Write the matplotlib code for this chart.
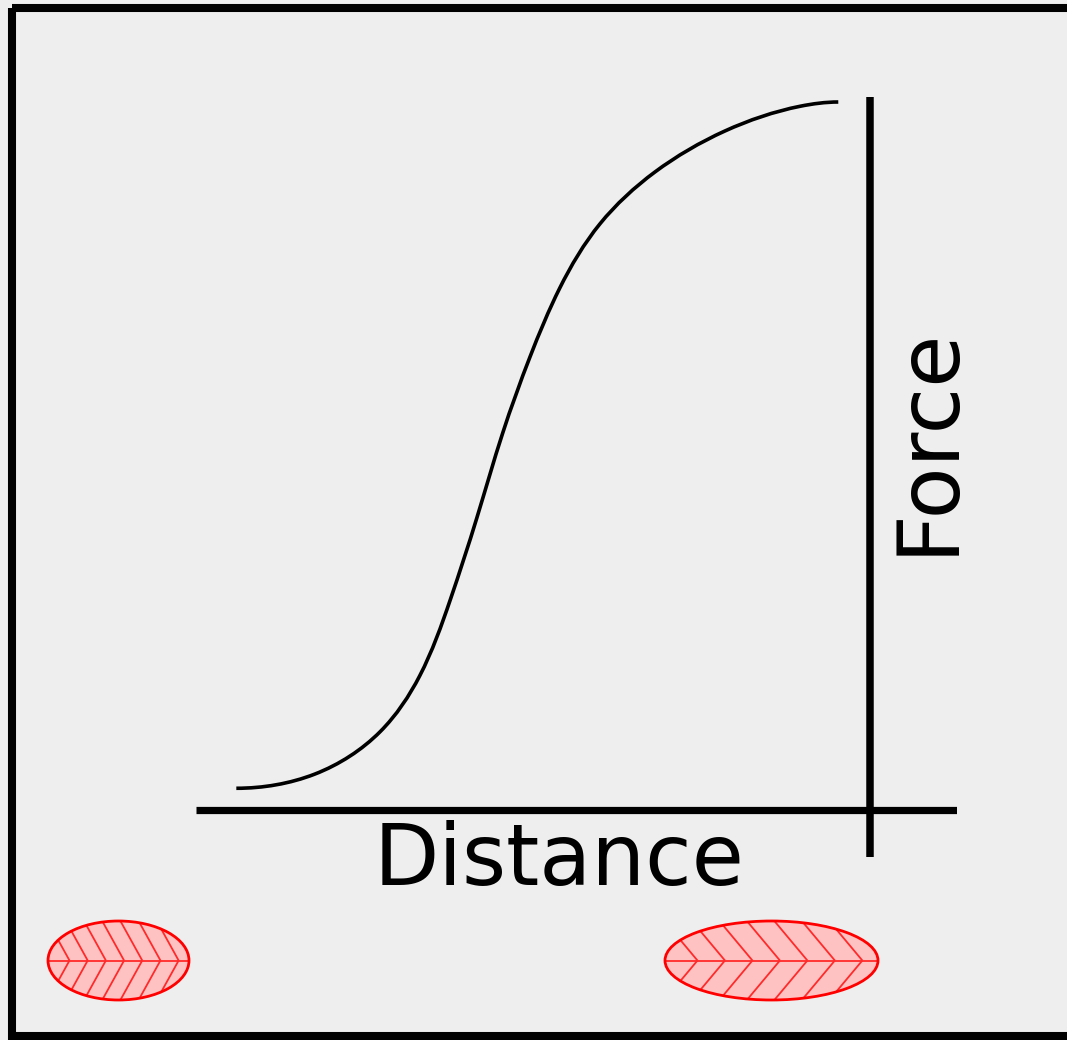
import matplotlib
matplotlib.use("Agg")
import math
import numpy as np
import matplotlib.pyplot as plt
from matplotlib.patches import Ellipse, Rectangle, PathPatch
from matplotlib.path import Path
from matplotlib.collections import LineCollection

# Force-distance curve (distance in arbitrary units, force in arbitrary units)
distance = [0.53, 1.56, 2.42, 2.94, 3.34, 3.69, 4.03, 4.39, 4.78, 5.31, 6.03,
            6.95, 7.94, 8.44]
force = [0.30, 0.50, 1.10, 1.89, 2.96, 4.12, 5.32, 6.40, 7.37, 8.28, 9.01,
         9.59, 9.94, 10.00]
x_label = "Distance"
y_label = "Force"

W, H = 1067, 1040
fig = plt.figure(figsize=(W / 100, H / 100), dpi=100, facecolor="#eeeeee")

# Background canvas in pixel units for frame, labels and leaf icons
bg = fig.add_axes([0, 0, 1, 1])
bg.set_xlim(0, W)
bg.set_ylim(H, 0)
bg.axis("off")
bg.patch.set_alpha(0)

bg.add_patch(Rectangle((12, 7.5), 1100, 1028.5, fill=False, edgecolor="black",
                       lw=5.8, joinstyle="miter", zorder=1))

# Plot area
ax = fig.add_axes([196 / W, (H - 857) / H, (957 - 196) / W, (857 - 97) / H])
ax.patch.set_alpha(0)
ax.set_xlim(0, 10)
ax.set_ylim(-47.5 / 70.75, 712.5 / 70.75)
for s in ax.spines.values():
    s.set_visible(False)
ax.set_xticks([])
ax.set_yticks([])


def clamped_second_derivs(t, v, d_start, d_end):
    n = len(t)
    A = np.zeros((n, n))
    r = np.zeros(n)
    h = np.diff(t)
    A[0, 0], A[0, 1] = 2 * h[0], h[0]
    r[0] = 6 * ((v[1] - v[0]) / h[0] - d_start)
    A[-1, -2], A[-1, -1] = h[-1], 2 * h[-1]
    r[-1] = 6 * (d_end - (v[-1] - v[-2]) / h[-1])
    for i in range(1, n - 1):
        A[i, i - 1] = h[i - 1]
        A[i, i] = 2 * (h[i - 1] + h[i])
        A[i, i + 1] = h[i]
        r[i] = 6 * ((v[i + 1] - v[i]) / h[i] - (v[i] - v[i - 1]) / h[i - 1])
    return np.linalg.solve(A, r)


def smooth_path(xs, ys):
    """Cubic spline (chord-length parameter, level ends) through the points,
    written as cubic Bezier segments."""
    xs, ys = np.asarray(xs, float), np.asarray(ys, float)
    n = len(xs)
    t = [0.0]
    for i in range(1, n):
        t.append(t[-1] + math.hypot(xs[i] - xs[i - 1], ys[i] - ys[i - 1]))
    t = np.array(t)
    Mx = clamped_second_derivs(t, xs, 1.0, 1.0)
    My = clamped_second_derivs(t, ys, 0.0, 0.0)
    verts = [(xs[0], ys[0])]
    codes = [Path.MOVETO]
    for i in range(n - 1):
        h = t[i + 1] - t[i]
        dx0 = (xs[i + 1] - xs[i]) / h - h * (2 * Mx[i] + Mx[i + 1]) / 6
        dy0 = (ys[i + 1] - ys[i]) / h - h * (2 * My[i] + My[i + 1]) / 6
        dx1 = (xs[i + 1] - xs[i]) / h + h * (Mx[i] + 2 * Mx[i + 1]) / 6
        dy1 = (ys[i + 1] - ys[i]) / h + h * (My[i] + 2 * My[i + 1]) / 6
        verts += [(xs[i] + dx0 * h / 3, ys[i] + dy0 * h / 3),
                  (xs[i + 1] - dx1 * h / 3, ys[i + 1] - dy1 * h / 3),
                  (xs[i + 1], ys[i + 1])]
        codes += [Path.CURVE4] * 3
    return Path(verts, codes)


ax.add_patch(PathPatch(smooth_path(distance, force), fill=False,
                       edgecolor="black", lw=2.6, capstyle="butt"))
ax.axhline(0, color="black", lw=5.2, solid_capstyle="butt")
ax.axvline(8.857, color="black", lw=5.4, solid_capstyle="butt")

bg.text(559, 885, x_label, fontsize=61, ha="center", va="baseline",
        family="DejaVu Sans")
bg.text(952, 440, y_label, fontsize=61, rotation=90, rotation_mode="anchor",
        ha="center", va="baseline", family="DejaVu Sans")

# Leaf icons: red ellipses with a midrib and chevron veins
vein_u = [-0.695 + 0.258 * k for k in range(7)]


def leaf(cx, cy, w, h):
    body = Ellipse((cx, cy), w, h, facecolor="#ffc2c2", edgecolor="none",
                   zorder=2)
    bg.add_patch(body)
    a, b = w / 2, h / 2
    segs = [[(cx - a, cy), (cx + a, cy)]]
    for u in vein_u:
        vx = cx + u * a
        for sgn in (-1, 1):
            segs.append([(vx, cy), (vx - 0.31 * a * 1.3, cy + sgn * b * 1.3)])
    lc = LineCollection(segs, colors="#ff2a2a", lw=1.3, zorder=3)
    lc.set_clip_path(body)
    bg.add_collection(lc)
    bg.add_patch(Ellipse((cx, cy), w, h, fill=False, edgecolor="#ff0000",
                         lw=2.0, zorder=4))


leaf(118.5, 960.5, 141, 79)
leaf(771.5, 960.5, 213, 79)

fig.savefig("out.png", dpi=100, facecolor=fig.get_facecolor())
